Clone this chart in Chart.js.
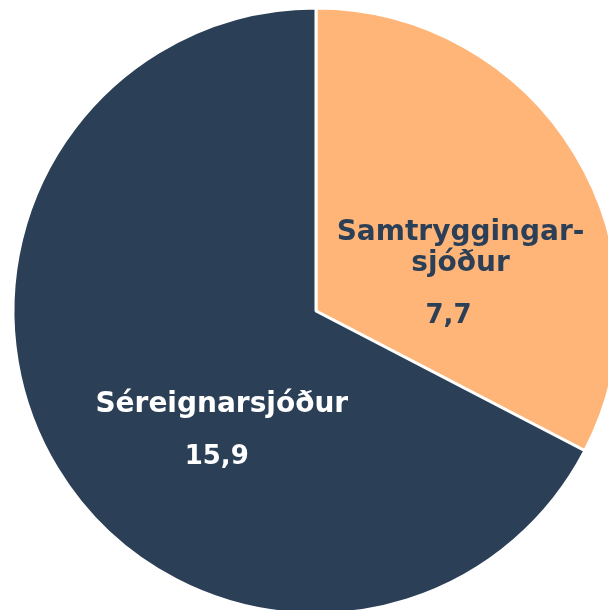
<!DOCTYPE html>
<html>
<head>
<meta charset="utf-8">
<script src="https://cdn.jsdelivr.net/npm/chart.js@4"></script>
<style>
    html, body { margin: 0; padding: 0; background: #fff; overflow: hidden; width: 608px; height: 610px; }
    #wrap { position: absolute; left: 0; top: 0; width: 632px; height: 622px; }
</style>
</head>
<body>
<div id="wrap"><canvas id="pie" width="632" height="622"></canvas></div>
<script>
// Data
const categories = [['Samtryggingar-', 'sjóður'], ['Séreignarsjóður']];
const values = [7.7, 15.9];
const sliceColors = ['#FFB478', '#2B3F57'];
const labelColors = ['#2B3F57', '#FFFFFF'];
// label anchor (first line baseline), as a fraction of the radius from the centre
const labelOffsets = [[0.477, -0.233], [-0.311, 0.333]];
const valueShift = [-12, -5];

const fmt = v => v.toFixed(1).replace('.', ',');

// Draws name + value inside each slice
const sliceLabels = {
    id: 'sliceLabels',
    afterDatasetsDraw(chart) {
        const ctx = chart.ctx;
        const meta = chart.getDatasetMeta(0);
        ctx.save();
        ctx.textAlign = 'center';
        ctx.textBaseline = 'alphabetic';
        meta.data.forEach((arc, i) => {
            const r = arc.outerRadius;
            const x = arc.x + labelOffsets[i][0] * r;
            let y = arc.y + labelOffsets[i][1] * r;
            ctx.fillStyle = labelColors[i];
            ctx.font = 'bold 28px "DejaVu Sans", Verdana, sans-serif';
            const lines = categories[i];
            lines.forEach((line, j) => {
                ctx.fillText(line, x, y + j * 31);
            });
            y += (lines.length - 1) * 31 + 52;
            ctx.font = 'bold 26px "DejaVu Sans", Verdana, sans-serif';
            ctx.fillText(fmt(values[i]), x + valueShift[i], y);
        });
        ctx.restore();
    }
};

new Chart(document.getElementById('pie'), {
    type: 'pie',
    data: {
        labels: categories.map(c => c.join('')),
        datasets: [{
            data: values,
            backgroundColor: sliceColors,
            borderColor: '#FFFFFF',
            borderWidth: 3,
            radius: 303
        }]
    },
    options: {
        responsive: false,
        animation: false,
        layout: { padding: 0 },
        plugins: {
            legend: { display: false },
            tooltip: { enabled: false }
        }
    },
    plugins: [sliceLabels]
});
</script>
</body>
</html>
